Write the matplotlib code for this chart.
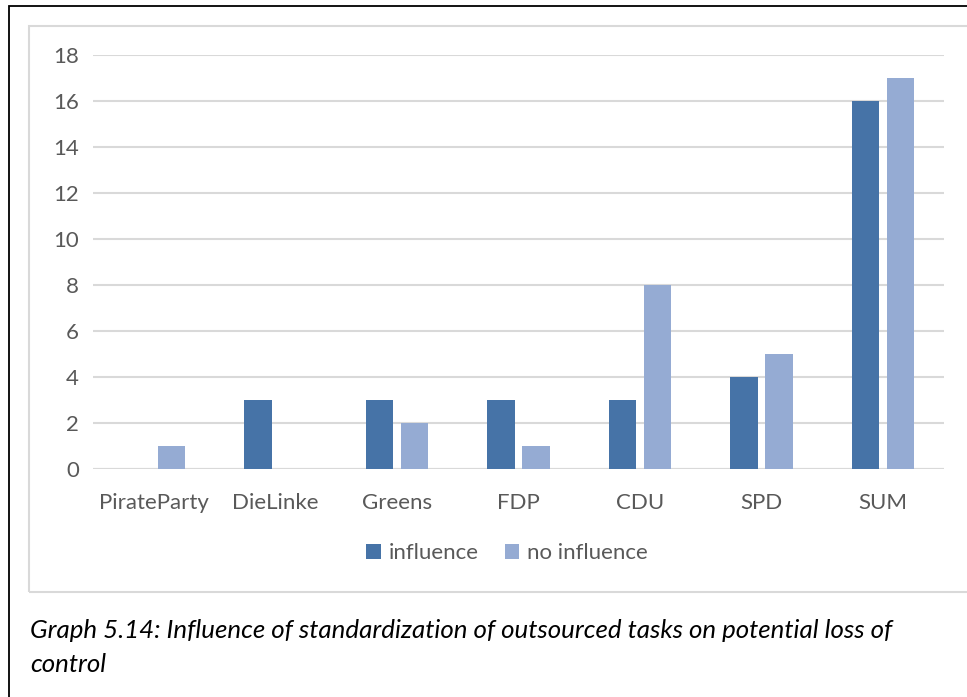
import matplotlib.pyplot as plt
import matplotlib.patches as mpatches
import numpy as np

# Data
parties = ['PirateParty', 'DieLinke', 'Greens', 'FDP', 'CDU', 'SPD', 'SUM']
influence = [0, 3, 3, 3, 3, 4, 16]
no_influence = [1, 0, 2, 1, 8, 5, 17]

dark = '#4673A7'
light = '#95ABD3'
grey_txt = '#595959'
font = 'Lato'

W, H = 967, 697
fig = plt.figure(figsize=(W / 100, H / 100), dpi=100)

# outer black frame (right/bottom edges cut off in the original)
fig.patches.append(mpatches.Rectangle((9 / W, 1 - 1500 / H), 1500 / W, 1494 / H,
                                      transform=fig.transFigure, fill=False,
                                      edgecolor='black', linewidth=1.3))
# chart area frame
fig.patches.append(mpatches.Rectangle((29 / W, 1 - 592 / H), 1500 / W, 566 / H,
                                      transform=fig.transFigure, fill=False,
                                      edgecolor='#D9D9D9', linewidth=1.5))

ax = fig.add_axes([93 / W, 1 - 469 / H, (944 - 93) / W, (469 - 55) / H])

x = np.arange(len(parties))
bw = 0.225
off = 0.144
ax.bar(x - off, influence, bw, color=dark, label='influence', zorder=3)
ax.bar(x + off, no_influence, bw, color=light, label='no influence', zorder=3)

ax.set_xlim(-0.5, len(parties) - 0.5)
ax.set_ylim(0, 18)
ax.set_yticks(range(0, 19, 2))
ax.yaxis.grid(True, color='#D9D9D9', linewidth=1.5, zorder=0)
for s in ax.spines.values():
    s.set_visible(False)
ax.axhline(0, color='#D9D9D9', linewidth=1.5, zorder=2)
ax.tick_params(length=0)
ax.tick_params(axis='y', pad=10)
ax.tick_params(axis='x', pad=17)
ax.set_xticks(x)
ax.set_xticklabels(parties)
for lab in ax.get_xticklabels() + ax.get_yticklabels():
    lab.set_fontfamily(font)
    lab.set_fontsize(16)
    lab.set_color(grey_txt)

leg = fig.legend(loc='center', bbox_to_anchor=(507 / W, 1 - 553 / H), ncol=2,
                 frameon=False, handlelength=0.65, handleheight=0.65,
                 handletextpad=0.35, columnspacing=1.2,
                 prop={'family': font, 'size': 16})
for t in leg.get_texts():
    t.set_color(grey_txt)

fig.text(30 / W, 1 - 631 / H,
         'Graph 5.14: Influence of standardization of outsourced tasks on potential loss of',
         fontsize=18.6, style='italic', family=font, va='center', ha='left')
fig.text(30 / W, 1 - 664 / H, 'control',
         fontsize=18.6, style='italic', family=font, va='center', ha='left')

fig.savefig('out.png', dpi=100)
